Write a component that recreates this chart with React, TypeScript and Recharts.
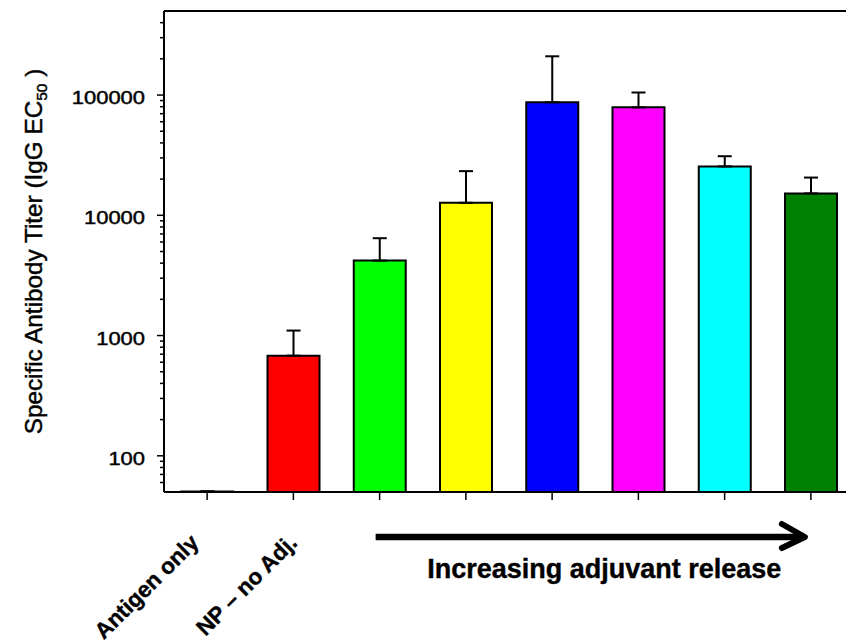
import React from "react";
import { BarChart, Bar, XAxis, YAxis, Cell, ErrorBar, ReferenceLine } from "recharts";

const categories = ["Antigen only", "NP – no Adj.", "NP A", "NP B", "NP C", "NP D", "NP E", "NP F"];
const shownLabels = ["Antigen only", "NP – no Adj.", "", "", "", "", "", ""];
const titers = [50.5, 680, 4200, 12700, 87000, 79000, 25500, 15200];
const errorTops = [50.5, 1100, 6450, 23300, 210000, 105000, 31000, 20600];
const barColors = ["#ffffff", "#ff0000", "#00ff00", "#ffff00", "#0000ff", "#ff00ff", "#00ffff", "#008000"];
const majorTicks = [100, 1000, 10000, 100000];
const minorTicks = [
  60, 70, 80, 90,
  200, 300, 400, 500, 600, 700, 800, 900,
  2000, 3000, 4000, 5000, 6000, 7000, 8000, 9000,
  20000, 30000, 40000, 50000, 60000, 70000, 80000, 90000,
  200000, 300000, 400000,
];
const yDomain = [50, 500000];
const arrowText = "Increasing adjuvant release";
const yTitle = "Specific Antibody Titer (IgG EC";
const yTitleSub = "50";

const FONT = "'Liberation Sans', Arial, sans-serif";
const CHART_W = 880;
const CHART_H = 644;
const MARGIN = { top: 11, right: 26, bottom: 0, left: 0 };
const Y_AXIS_W = 164;
const X_AXIS_H = 152;
const PLOT_LEFT = MARGIN.left + Y_AXIS_W;
const PLOT_RIGHT = CHART_W - MARGIN.right;

const data = categories.map((c, i) => ({
  name: c,
  label: shownLabels[i],
  titer: titers[i],
  err: [0, errorTops[i] - titers[i]],
}));

const allYTicks = [...majorTicks, ...minorTicks].sort((a, b) => a - b);

function YTick(props: any) {
  const { x, y, payload } = props;
  const major = majorTicks.includes(payload.value);
  return (
    <g>
      <line x1={x - (major ? 7 : 4)} x2={x} y1={y} y2={y} stroke="#000" strokeWidth={1.5} />
      {major && (
        <text
          transform={`translate(${x - 19},${y + 9}) scale(1.18,1)`}
          textAnchor="end"
          fontFamily={FONT}
          fontSize={18.6}
          fill="#000"
          stroke="#000"
          strokeWidth={0.45}
        >
          {payload.value}
        </text>
      )}
    </g>
  );
}

function XTick(props: any) {
  const { x, y, index } = props;
  const band = (PLOT_RIGHT - PLOT_LEFT) / categories.length;
  const label = shownLabels[index];
  let extra: any = null;
  if (label) {
    const ax = index === 0 ? x - 7 : x + 5;
    const ay = y + 52;
    extra = (
      <text
        x={ax}
        y={ay}
        transform={`rotate(-45, ${ax}, ${ay})`}
        textAnchor="end"
        fontFamily={FONT}
        fontWeight="bold"
        fontSize={22.5}
        fill="#000"
        stroke="#000"
        strokeWidth={0.4}
      >
        {label}
      </text>
    );
  }
  if (index === 2) {
    const x0 = x - 4;
    const tip = x + 5 * band - 6;
    const ly = y + 45;
    extra = (
      <g>
        <line x1={x0} x2={tip - 3} y1={ly} y2={ly} stroke="#000" strokeWidth={6.5} />
        <polyline
          points={`${tip - 23},${ly - 13} ${tip},${ly} ${tip - 23},${ly + 11}`}
          fill="none"
          stroke="#000"
          strokeWidth={6}
          strokeLinecap="round"
          strokeLinejoin="round"
        />
        <text
          x={x + 2.5 * band + 9}
          y={y + 86}
          textAnchor="middle"
          fontFamily={FONT}
          fontWeight="bold"
          fontSize={27}
          fill="#000"
          stroke="#000"
          strokeWidth={0.4}
        >
          {arrowText}
        </text>
      </g>
    );
  }
  return (
    <g>
      <line x1={x} x2={x} y1={y} y2={y + 8} stroke="#000" strokeWidth={1.5} />
      {extra}
    </g>
  );
}

function YTitle(props: any) {
  const vb = props.viewBox || { x: 0, y: 11, width: 164, height: 481 };
  const cx = vb.x + 42;
  const cy = vb.y + vb.height / 2;
  return (
    <text
      x={cx}
      y={cy}
      transform={`rotate(-90, ${cx}, ${cy})`}
      textAnchor="middle"
      fontFamily={FONT}
      fontSize={24.3}
      fill="#000"
      stroke="#000"
      strokeWidth={0.45}
    >
      {yTitle}
      <tspan fontSize={15.5} dy={5}>{yTitleSub}</tspan>
      <tspan dy={-5}> )</tspan>
    </text>
  );
}

export default function App() {
  return (
    <div
      style={{
        position: "absolute",
        left: 0,
        top: 0,
        width: 846,
        height: 644,
        overflow: "hidden",
        background: "#fff",
      }}
    >
      <BarChart width={CHART_W} height={CHART_H} data={data} margin={MARGIN} barCategoryGap="20%">
        <XAxis
          dataKey="name"
          height={X_AXIS_H}
          tickSize={0}
          tickMargin={0}
          interval={0}
          axisLine={{ stroke: "#000", strokeWidth: 2 }}
          tickLine={false}
          tick={(p: any) => <XTick {...p} />}
        />
        <YAxis
          scale="log"
          type="number"
          domain={yDomain}
          allowDataOverflow
          ticks={allYTicks}
          interval={0}
          width={Y_AXIS_W}
          tickSize={0}
          tickMargin={0}
          tickLine={false}
          axisLine={{ stroke: "#000", strokeWidth: 2 }}
          tick={(p: any) => <YTick {...p} />}
          label={<YTitle />}
        />
        <ReferenceLine y={yDomain[1]} stroke="#000" strokeWidth={2} ifOverflow="visible" />
        <Bar dataKey="titer" stroke="#000" strokeWidth={2} isAnimationActive={false}>
          {data.map((d, i) => (
            <Cell key={d.name} fill={barColors[i]} />
          ))}
          <ErrorBar dataKey="err" direction="y" width={7} stroke="#000" strokeWidth={2} />
        </Bar>
      </BarChart>
    </div>
  );
}
